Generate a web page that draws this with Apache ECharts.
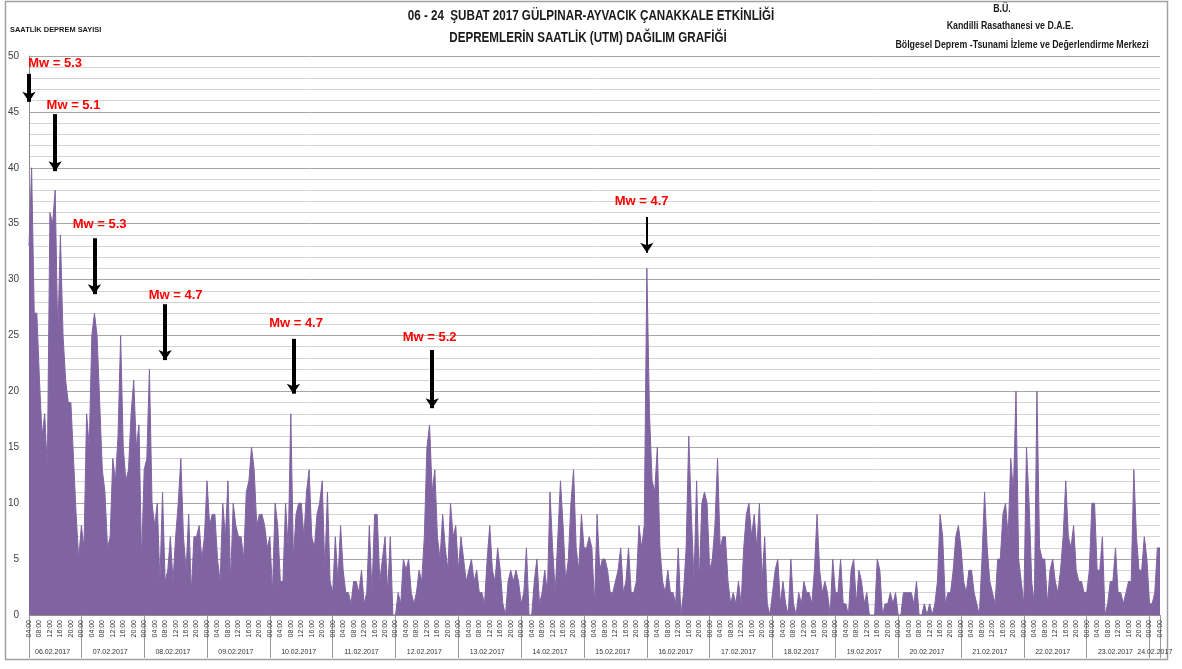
<!DOCTYPE html>
<html>
<head>
<meta charset="utf-8">
<title>Depremlerin saatlik dağılımı</title>
<script src="https://cdn.jsdelivr.net/npm/echarts/dist/echarts.min.js"></script>
<style>
  html, body { margin: 0; padding: 0; background: #fff; }
  #main { width: 1182px; height: 669px; }
</style>
</head>
<body>
<div id="main"></div>
<script>
// gunler (ilk gun 04:00'te baslar, son gun 04:00'te biter)
var days = ['06.02.2017', '07.02.2017', '08.02.2017', '09.02.2017', '10.02.2017', '11.02.2017',
  '12.02.2017', '13.02.2017', '14.02.2017', '15.02.2017', '16.02.2017', '17.02.2017',
  '18.02.2017', '19.02.2017', '20.02.2017', '21.02.2017', '22.02.2017', '23.02.2017', '24.02.2017'];

// saatlik deprem sayilari
var feb06 = [33, 40, 27, 27, 21, 16, 18, 13, 36, 35, 38, 25, 34, 25, 21, 19, 19, 14, 9, 5];
var feb07 = [8, 6, 18, 15, 25, 27, 25, 19, 13, 11, 6, 7, 14, 12, 16, 25, 15, 12, 13, 18, 21, 15, 17, 5];
var feb08 = [13, 14, 22, 10, 8, 10, 3, 11, 3, 4, 7, 3, 7, 10, 14, 7, 4, 9, 2, 7, 7, 8, 5, 7];
var feb09 = [12, 8, 9, 9, 5, 3, 10, 7, 12, 3, 10, 8, 7, 7, 5, 11, 12, 15, 13, 8, 9, 9, 8, 6];
var feb10 = [7, 2, 10, 8, 3, 3, 10, 6, 18, 5, 9, 10, 10, 7, 11, 13, 7, 6, 9, 10, 12, 4, 11, 3];
var feb11 = [2, 7, 3, 8, 4, 2, 2, 1, 3, 3, 2, 4, 1, 2, 8, 2, 9, 9, 3, 5, 7, 2, 7, 0];
var feb12 = [0, 2, 1, 5, 4, 5, 2, 1, 2, 4, 3, 7, 15, 17, 11, 13, 7, 5, 9, 6, 4, 10, 7, 8];
var feb13 = [4, 7, 5, 3, 4, 5, 3, 4, 2, 2, 1, 5, 8, 4, 3, 6, 4, 1, 0, 3, 4, 3, 4, 3];
var feb14 = [1, 2, 6, 0, 0, 3, 5, 1, 2, 4, 2, 11, 6, 2, 7, 12, 8, 3, 5, 10, 13, 6, 4, 9];
var feb15 = [6, 6, 7, 6, 1, 9, 4, 5, 5, 4, 2, 2, 3, 4, 6, 2, 3, 6, 2, 2, 3, 8, 6, 8];
var feb16 = [31, 18, 12, 11, 15, 6, 3, 2, 4, 2, 2, 1, 6, 0, 2, 6, 16, 9, 3, 12, 3, 10, 11, 10];
var feb17 = [4, 5, 8, 14, 6, 7, 7, 3, 1, 2, 1, 3, 1, 6, 9, 10, 7, 9, 6, 10, 3, 7, 1, 0];
var feb18 = [2, 4, 5, 1, 3, 1, 0, 5, 1, 0, 2, 1, 3, 2, 2, 1, 4, 9, 4, 2, 3, 2, 0, 5];
var feb19 = [2, 2, 5, 1, 1, 0, 4, 5, 1, 4, 3, 1, 2, 0, 0, 0, 5, 4, 0, 1, 1, 2, 1, 2];
var feb20 = [0, 0, 2, 2, 2, 2, 1, 3, 0, 0, 1, 0, 1, 0, 1, 3, 9, 7, 1, 2, 2, 4, 7, 8];
var feb21 = [6, 3, 2, 4, 4, 2, 1, 0, 5, 11, 6, 3, 2, 1, 5, 5, 9, 10, 7, 14, 11, 20, 5, 3];
var feb22 = [1, 15, 10, 3, 1, 20, 6, 5, 5, 1, 4, 5, 3, 2, 4, 7, 12, 7, 6, 8, 4, 3, 3, 2];
var feb23 = [2, 4, 10, 10, 4, 4, 7, 0, 1, 3, 3, 6, 2, 2, 1, 2, 3, 3, 13, 7, 4, 4, 7, 5];
var feb24 = [1, 1, 2, 6, 6];

// buyuk depremler: ok (kategori indeksi, ust, alt) ve yazi (indeks, deger)
var quakeText = ['Mw = 5.3', 'Mw = 5.1', 'Mw = 5.3', 'Mw = 4.7', 'Mw = 4.7', 'Mw = 5.2', 'Mw = 4.7'];
var arrowAt = [0, 10, 25, 52, 101, 154, 236];
var arrowTop = [48.4, 44.8, 33.7, 27.8, 24.7, 23.7, 35.6];
var arrowEnd = [45.9, 39.7, 28.7, 22.8, 19.8, 18.5, 32.4];
var textAt = [10, 17, 27, 56, 102, 153, 234];
var textY = [49.3, 45.6, 34.9, 28.6, 26.1, 24.8, 37.0];

var FONT = "'Liberation Sans', Arial, sans-serif";
var PURPLE = '#8064a2';

var dayCounts = [feb06, feb07, feb08, feb09, feb10, feb11, feb12, feb13, feb14, feb15,
  feb16, feb17, feb18, feb19, feb20, feb21, feb22, feb23, feb24];

var categories = [];
var counts = [];
var dayMid = {};
dayCounts.forEach(function (arr, d) {
  var startHour = d === 0 ? 24 - arr.length : 0;
  dayMid[categories.length + Math.floor((arr.length - 1) / 2)] = true;
  arr.forEach(function (v, k) {
    var h = startHour + k;
    categories.push(days[d] + ' ' + (h < 10 ? '0' + h : h) + ':00');
    counts.push(v);
  });
});
var lastIndex = categories.length - 1;

var arrows = [];
var texts = [];
quakeText.forEach(function (t, k) {
  arrows.push([
    { coord: [arrowAt[k], arrowTop[k]], lineStyle: { width: k === 6 ? 2 : 4 } },
    { coord: [arrowAt[k], arrowEnd[k]] }
  ]);
  texts.push({ name: t, coord: [textAt[k], textY[k]] });
});

// baslik yazilari (Calibri'ye yakin dar gorunum icin yatay olcekli)
function headerText(txt, x, y, size, sx) {
  return {
    type: 'text', x: x, y: y, scaleX: sx, silent: true,
    style: { text: txt, textAlign: 'center', textVerticalAlign: 'middle', font: 'bold ' + size + 'px ' + FONT, fill: '#1a1a1a' }
  };
}

var myChart = echarts.init(document.getElementById('main'));

var option = {
  animation: false,
  textStyle: { fontFamily: FONT },
  grid: { left: 29, right: 22, top: 56, bottom: 54 },
  xAxis: [
    {
      type: 'category',
      data: categories,
      boundaryGap: false,
      axisLine: { show: true, lineStyle: { color: '#8c8c8c', width: 1 } },
      axisTick: {
        show: true,
        length: 43,
        interval: function (i, v) {
          return i === 0 || i === lastIndex || v.slice(11) === '00:00';
        },
        lineStyle: { color: '#9a9a9a' }
      },
      axisLabel: {
        interval: function (i) { return i % 4 === 0; },
        rotate: 90,
        margin: 5,
        fontSize: 7,
        color: '#333',
        fontFamily: FONT,
        formatter: function (v) { return v.slice(11); }
      },
      splitLine: { show: false }
    },
    {
      type: 'category',
      data: categories,
      boundaryGap: false,
      position: 'bottom',
      axisLine: { show: false },
      axisTick: { show: false },
      axisLabel: {
        interval: function (i) { return !!dayMid[i]; },
        hideOverlap: false,
        margin: 34,
        fontSize: 7,
        color: '#333',
        fontFamily: FONT,
        formatter: function (v) { return v.slice(0, 10); }
      },
      splitLine: { show: false }
    }
  ],
  yAxis: {
    type: 'value',
    min: 0,
    max: 50,
    interval: 5,
    axisLine: { show: true, lineStyle: { color: '#8c8c8c' } },
    axisTick: { show: false },
    axisLabel: { fontSize: 10, color: '#404040', margin: 10, fontFamily: FONT },
    splitLine: { show: true, lineStyle: { color: '#a6a6a6', width: 1 } },
    minorTick: { show: false, splitNumber: 5 },
    minorSplitLine: { show: true, lineStyle: { color: '#d4d4d4', width: 1 } }
  },
  series: [
    {
      name: 'Saatlik deprem sayısı',
      type: 'line',
      data: counts,
      symbol: 'none',
      smooth: false,
      lineStyle: { width: 1, color: PURPLE },
      itemStyle: { color: PURPLE },
      areaStyle: { color: PURPLE, opacity: 1 },
      markLine: {
        silent: true,
        symbol: ['none', 'arrow'],
        symbolSize: 10,
        label: { show: false },
        lineStyle: { color: '#000', type: 'solid', width: 4 },
        data: arrows
      },
      markPoint: {
        silent: true,
        symbol: 'circle',
        symbolSize: 1,
        itemStyle: { color: 'rgba(0,0,0,0)' },
        label: {
          show: true,
          position: 'inside',
          formatter: '{b}',
          color: '#ff0000',
          fontWeight: 'bold',
          fontSize: 13,
          fontFamily: FONT
        },
        data: texts
      }
    }
  ],
  graphic: [
    {
      type: 'rect',
      silent: true,
      shape: { x: 5.5, y: 1.5, width: 1162, height: 658 },
      style: { fill: 'none', stroke: '#a0a0a0', lineWidth: 1.5 }
    },
    headerText('06 - 24  ŞUBAT 2017 GÜLPINAR-AYVACIK ÇANAKKALE ETKİNLİĞİ', 591, 16, 14, 0.83),
    headerText('DEPREMLERİN SAATLİK (UTM) DAĞILIM GRAFİĞİ', 588, 38, 14, 0.83),
    headerText('B.Ü.', 1002, 9, 10, 0.88),
    headerText('Kandilli Rasathanesi ve D.A.E.', 1010, 26, 10, 0.88),
    headerText('Bölgesel Deprem -Tsunami İzleme ve Değerlendirme Merkezi', 1022, 45, 10, 0.88),
    {
      type: 'text', x: 10, y: 30, scaleX: 0.93, silent: true,
      style: { text: 'SAATLİK DEPREM SAYISI', textAlign: 'left', textVerticalAlign: 'middle', font: 'bold 8px ' + FONT, fill: '#1a1a1a' }
    }
  ]
};

myChart.setOption(option);
</script>
</body>
</html>
